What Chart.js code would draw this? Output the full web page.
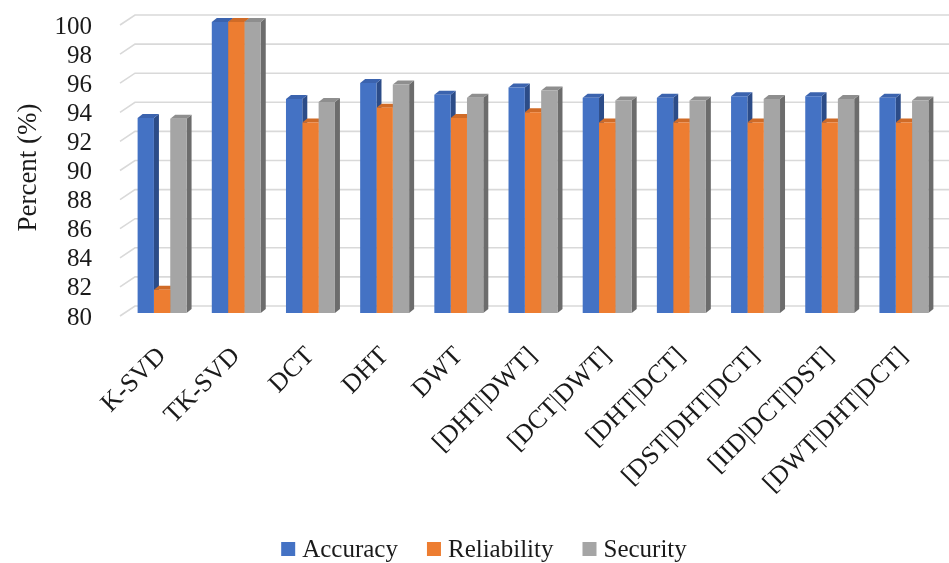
<!DOCTYPE html>
<html>
<head>
<meta charset="utf-8">
<script src="https://cdn.jsdelivr.net/npm/chart.js@4/dist/chart.umd.min.js"></script>
<style>
  html, body { margin: 0; padding: 0; background: #ffffff; }
  canvas { display: block; }
</style>
</head>
<body>
<canvas id="chart" width="949" height="563"></canvas>
<script>
// Methods compared
const categories = ['K-SVD', 'TK-SVD', 'DCT', 'DHT', 'DWT', '[DHT|DWT]', '[DCT|DWT]',
                    '[DHT|DCT]', '[DST|DHT|DCT]', '[IID|DCT|DST]', '[DWT|DHT|DCT]'];

// Scores in percent
const accuracy    = [93.4, 100, 94.7, 95.8, 95.0, 95.5, 94.8, 94.8, 94.9, 94.9, 94.8];
const reliability = [81.6, 100, 93.1, 94.1, 93.4, 93.8, 93.1, 93.1, 93.1, 93.1, 93.1];
const security    = [93.35, 100, 94.5, 95.7, 94.8, 95.3, 94.6, 94.6, 94.7, 94.7, 94.6];

const seriesNames = ['Accuracy', 'Reliability', 'Security'];
const yMin = 80, yMax = 100, yStep = 2;

// Face colours: front, top, side
const frontColors = ['#4472C4', '#ED7D31', '#A5A5A5'];
const topColors   = ['#3B63AE', '#D06B27', '#8E8E8E'];
const sideColors  = ['#2C4C88', '#A9561D', '#6C6C6C'];

const FONT = "'Liberation Serif', 'Times New Roman', serif";
const DEPTH_X = 5, DEPTH_Y = 4;      // bar extrusion
const WALL_BACK_X = 10, WALL_BACK_Y = -7, WALL_FRONT_X = -5, WALL_FRONT_Y = 3;

// Back wall gridlines with the short slanted run on the side wall
const wallGrid = {
  id: 'wallGrid',
  beforeDatasetsDraw(chart) {
    const { ctx, chartArea } = chart;
    const y = chart.scales.y;
    ctx.save();
    ctx.strokeStyle = '#D9D9D9';
    ctx.lineWidth = 1.6;
    y.ticks.forEach(t => {
      const py = y.getPixelForValue(t.value);
      ctx.beginPath();
      ctx.moveTo(chartArea.left + WALL_FRONT_X, py + WALL_FRONT_Y);
      ctx.lineTo(chartArea.left + WALL_BACK_X, py + WALL_BACK_Y);
      ctx.lineTo(chart.width, py + WALL_BACK_Y);
      ctx.stroke();
    });
    ctx.restore();
  }
};

// Top and side faces of each column, painted before the front faces
const columnDepth = {
  id: 'columnDepth',
  beforeDatasetsDraw(chart) {
    const ctx = chart.ctx;
    const floor = chart.chartArea.bottom;
    ctx.save();
    chart.data.datasets.forEach((ds, i) => {
      const meta = chart.getDatasetMeta(i);
      meta.data.forEach(bar => {
        const p = bar.getProps(['x', 'y', 'width', 'base'], true);
        const base = Math.min(p.base, floor);
        const y = p.y;
        const l = p.x - p.width / 2, r = p.x + p.width / 2;
        // side
        ctx.fillStyle = sideColors[i];
        ctx.beginPath();
        ctx.moveTo(r, y);
        ctx.lineTo(r + DEPTH_X, y - DEPTH_Y);
        ctx.lineTo(r + DEPTH_X, base - DEPTH_Y);
        ctx.lineTo(r, base);
        ctx.closePath();
        ctx.fill();
        // top
        ctx.fillStyle = topColors[i];
        ctx.beginPath();
        ctx.moveTo(l, y);
        ctx.lineTo(l + DEPTH_X, y - DEPTH_Y);
        ctx.lineTo(r + DEPTH_X, y - DEPTH_Y);
        ctx.lineTo(r, y);
        ctx.closePath();
        ctx.fill();
      });
    });
    ctx.restore();
  }
};

// Legend row under the axis labels
const bottomLegend = {
  id: 'bottomLegend',
  afterDraw(chart) {
    const ctx = chart.ctx;
    const fontSize = 25, box = 14, gapBox = 7, gapItem = 29;
    const cy = 549, cx = 484;
    ctx.save();
    ctx.font = fontSize + 'px ' + FONT;
    const items = chart.data.datasets.map(ds => ({ label: ds.label, color: ds.backgroundColor, w: ctx.measureText(ds.label).width }));
    let total = 0;
    items.forEach((it, k) => { total += box + gapBox + it.w + (k < items.length - 1 ? gapItem : 0); });
    let x = cx - total / 2;
    ctx.textBaseline = 'middle';
    ctx.textAlign = 'left';
    items.forEach(it => {
      ctx.fillStyle = it.color;
      ctx.fillRect(x, cy - box / 2, box, box);
      x += box + gapBox;
      ctx.fillStyle = '#1a1a1a';
      ctx.fillText(it.label, x, cy + 1);
      x += it.w + gapItem;
    });
    ctx.restore();
  }
};

new Chart(document.getElementById('chart'), {
  type: 'bar',
  data: {
    labels: categories,
    datasets: [
      { label: seriesNames[0], data: accuracy,    backgroundColor: frontColors[0] },
      { label: seriesNames[1], data: reliability, backgroundColor: frontColors[1] },
      { label: seriesNames[2], data: security,    backgroundColor: frontColors[2] }
    ]
  },
  options: {
    responsive: false,
    animation: false,
    layout: { padding: { top: 22, right: 8, bottom: 60, left: 0 } },
    datasets: { bar: { categoryPercentage: 0.66, barPercentage: 1.0, borderWidth: 0 } },
    plugins: { legend: { display: false }, tooltip: { enabled: false } },
    scales: {
      x: {
        grid: { display: false, drawTicks: false },
        border: { display: false },
        ticks: {
          minRotation: 45, maxRotation: 45, padding: 28, autoSkip: false,
          color: '#1a1a1a', font: { family: FONT, size: 26 }
        },
        afterFit(scale) { scale.height = 190; scale.paddingLeft = 0; scale.paddingRight = 0; }
      },
      y: {
        min: yMin, max: yMax,
        grid: { display: false, drawTicks: false },
        border: { display: false },
        ticks: {
          stepSize: yStep, padding: 33, labelOffset: 5, autoSkip: false,
          color: '#1a1a1a', font: { family: FONT, size: 25 }
        },
        title: {
          display: true, text: 'Percent (%)', color: '#1a1a1a',
          font: { family: FONT, size: 27 }, padding: { top: 13, bottom: 0 }
        },
        afterFit(scale) { scale.width = 125; scale.paddingTop = 0; scale.paddingBottom = 0; }
      }
    }
  },
  plugins: [wallGrid, columnDepth, bottomLegend]
});
</script>
</body>
</html>
